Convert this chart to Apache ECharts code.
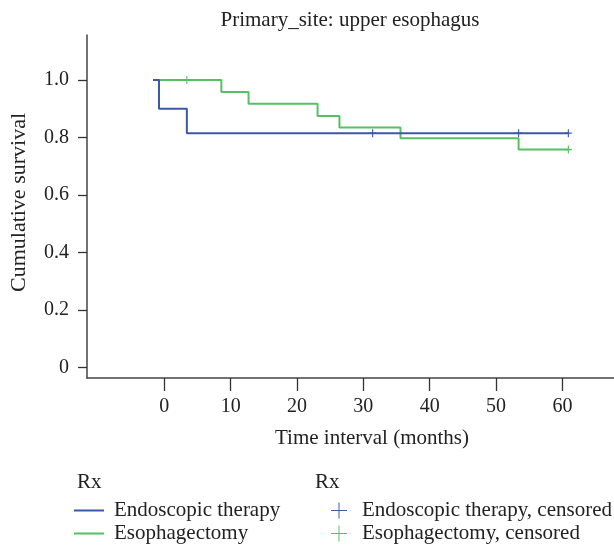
<!DOCTYPE html>
<html>
<head>
<meta charset="utf-8">
<script src="https://cdn.jsdelivr.net/npm/echarts@6/dist/echarts.min.js"></script>
<style>html,body{margin:0;padding:0;background:#fff;}#c{width:614px;height:547px;}</style>
</head>
<body>
<div id="c"></div>
<script>
// ---- data ----
const xTicks = [0, 10, 20, 30, 40, 50, 60];
const yTicks = [0, 0.2, 0.4, 0.6, 0.8, 1.0];

const endoTimes = [-1.7, -0.8, 3.4, 60.9];
const endoSurv  = [1.0, 0.9, 0.815, 0.815];
const endoCensorTimes = [31.4, 53.4, 60.9];
const endoCensorSurv  = [0.815, 0.815, 0.815];

const esoTimes = [-1.7, 8.6, 12.7, 23.1, 26.4, 35.6, 53.4, 60.9];
const esoSurv  = [1.0, 0.958, 0.917, 0.875, 0.835, 0.797, 0.758, 0.758];
const esoCensorTimes = [3.4, 60.9];
const esoCensorSurv  = [1.0, 0.758];

const seriesNames = ['Endoscopic therapy', 'Esophagectomy'];
const censorNames = ['Endoscopic therapy, censored', 'Esophagectomy, censored'];
// --------------------------------------

const BLUE = '#3d58a8';
const GREEN = '#55c064';
const FONT = '"Liberation Serif", "DejaVu Serif", serif';
const FS = 21;
const zip = (a, b) => a.map((v, i) => [v, b[i]]);
const plotMark = 'path://M0,4.2H10V5.8H0Z M4.2,0H5.8V10H4.2Z';
const legendCross = 'path://M0,9.4H20V10.6H0Z M9.4,0H10.6V20H9.4Z';
const txt = {fontFamily: FONT, fontSize: FS, color: '#222'};

function lineLegend(name, top, color) {
  return {data: [{name: name, icon: 'rect', itemStyle: {color: color, borderWidth: 0, opacity: 1}}],
    orient: 'vertical', left: 74, top: top, padding: 0,
    itemWidth: 30, itemHeight: 2, selectedMode: false,
    itemStyle: {color: color, borderWidth: 0, opacity: 1},
    lineStyle: {width: 0, opacity: 0},
    textStyle: Object.assign({padding: [0, 0, 0, 5]}, txt)};
}
function crossLegend(name, top, color) {
  return {data: [{name: name, icon: legendCross, itemStyle: {color: color}}],
    orient: 'vertical', left: 331, top: top, padding: 0,
    itemWidth: 16, itemHeight: 16, selectedMode: false,
    textStyle: Object.assign({padding: [0, 0, 0, 10]}, txt)};
}

const chart = echarts.init(document.getElementById('c'), null, {renderer: 'canvas'});
chart.setOption({
  animation: false,
  backgroundColor: '#fff',
  title: {
    text: 'Primary_site: upper esophagus',
    left: 345, top: 5, textAlign: 'center',
    textStyle: {fontFamily: FONT, fontSize: FS, fontWeight: 'normal', color: '#222'}
  },
  grid: {left: 85, right: 0, top: 35, bottom: 169, containLabel: false},
  xAxis: {
    type: 'value', min: -11.65, max: 67.78,
    splitLine: {show: false},
    axisLine: {show: true, onZero: false, lineStyle: {color: '#444', width: 1.5}},
    axisTick: {show: true, inside: false, length: 13, customValues: xTicks, lineStyle: {color: '#333', width: 1.3}},
    axisLabel: {customValues: xTicks, margin: 19, fontFamily: FONT, fontSize: 20, color: '#222'}
  },
  yAxis: {
    type: 'value', min: -0.0365, max: 1.1565,
    splitLine: {show: false},
    name: 'Cumulative survival', nameLocation: 'middle', nameGap: 57, nameRotate: 90,
    nameTextStyle: {fontFamily: FONT, fontSize: 22, color: '#222', padding: [0, 0, 0, 8]},
    axisLine: {show: true, onZero: false, lineStyle: {color: '#444', width: 1.5}},
    axisTick: {show: true, inside: false, length: 9, customValues: yTicks, lineStyle: {color: '#333', width: 1.3}},
    axisLabel: {customValues: yTicks, margin: 18, fontFamily: FONT, fontSize: 20, color: '#222',
      formatter: v => (v === 0 ? '0' : v.toFixed(1))}
  },
  graphic: [
    {type: 'text', x: 372, y: 438, style: {text: 'Time interval (months)', font: FS + 'px ' + FONT, fill: '#222', textAlign: 'center', textVerticalAlign: 'middle'}},
    {type: 'text', x: 77, y: 482, style: {text: 'Rx', font: FS + 'px ' + FONT, fill: '#222', textAlign: 'left', textVerticalAlign: 'middle'}},
    {type: 'text', x: 315, y: 482, style: {text: 'Rx', font: FS + 'px ' + FONT, fill: '#222', textAlign: 'left', textVerticalAlign: 'middle'}}
  ],
  legend: [
    lineLegend(seriesNames[0], 500, BLUE),
    lineLegend(seriesNames[1], 523, GREEN),
    crossLegend(censorNames[0], 500, BLUE),
    crossLegend(censorNames[1], 523, GREEN)
  ],
  series: [
    {name: seriesNames[0], type: 'line', step: 'end', data: zip(endoTimes, endoSurv),
      symbol: 'none', lineStyle: {color: BLUE, width: 2}, itemStyle: {color: BLUE}, z: 3},
    {name: seriesNames[1], type: 'line', step: 'end', data: zip(esoTimes, esoSurv),
      symbol: 'none', lineStyle: {color: GREEN, width: 2}, itemStyle: {color: GREEN}, z: 2},
    {name: censorNames[0], type: 'scatter', data: zip(endoCensorTimes, endoCensorSurv),
      symbol: plotMark, symbolSize: [7, 8], itemStyle: {color: BLUE, opacity: 1}, z: 4},
    {name: censorNames[1], type: 'scatter', data: zip(esoCensorTimes, esoCensorSurv),
      symbol: plotMark, symbolSize: [7, 8], itemStyle: {color: GREEN, opacity: 1}, z: 4}
  ]
});
</script>
</body>
</html>
